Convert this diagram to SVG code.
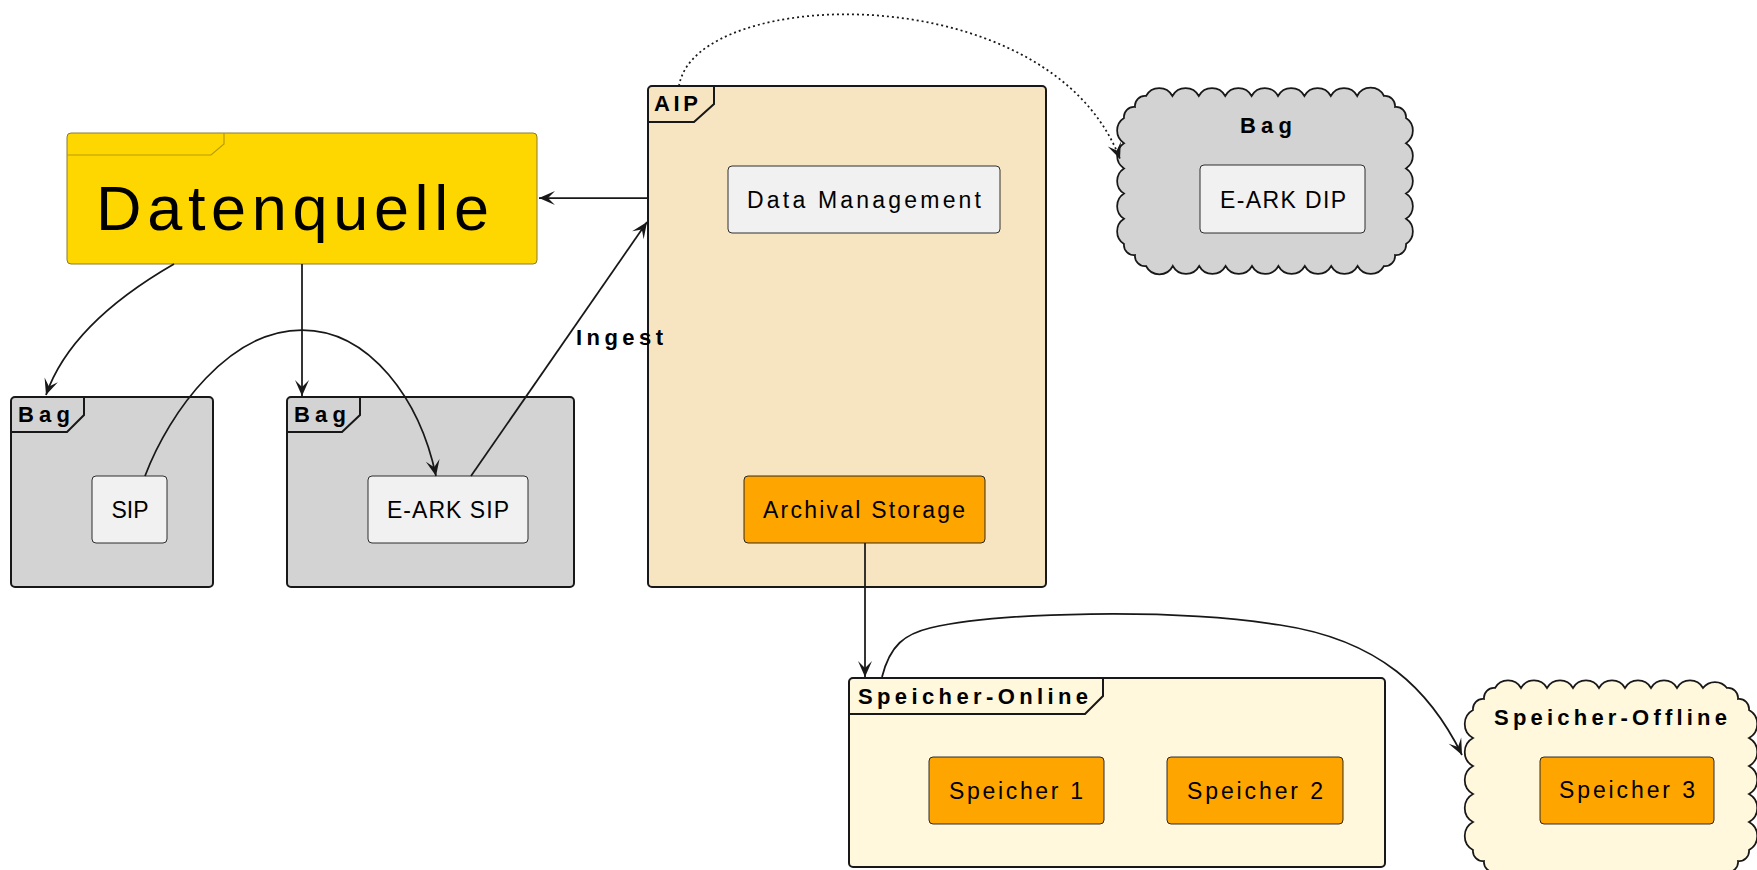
<svg xmlns="http://www.w3.org/2000/svg" width="1757" height="870" viewBox="0 0 1757 870">
<style>
.pkg{stroke:#181818;stroke-width:2}
.tab{fill:none;stroke:#181818;stroke-width:2}
.node{stroke:#181818;stroke-width:0.9}
.ttl{font-family:"Liberation Sans",Arial,sans-serif;font-weight:bold;font-size:22px;fill:#000}
.lbl{font-family:"Liberation Sans",Arial,sans-serif;font-size:23px;fill:#000;text-anchor:middle}
.con{fill:none;stroke:#181818;stroke-width:1.75}
.cloud{stroke:#181818;stroke-width:1.75}
</style>
<defs>
<marker id="arr" viewBox="-17 -8 18 16" markerWidth="18" markerHeight="16" refX="0" refY="0" orient="auto" markerUnits="userSpaceOnUse">
<path d="M0,0 L-16,-7 L-9,0 L-16,7 Z" fill="#181818"/>
</marker>
</defs>
<rect width="1757" height="870" fill="#fff"/>

<g id="datenquelle">
<rect x="67" y="133" width="470" height="131" rx="4" fill="#FFD700" stroke="#8a7a30" stroke-width="1"/>
<path d="M67,155 H211 L224,144 V133" fill="none" stroke="#B89C00" stroke-width="1.2"/>
<text x="96" y="230" font-family="'Liberation Sans',Arial,sans-serif" font-size="63" textLength="393" lengthAdjust="spacing">Datenquelle</text>
</g>

<g id="bag1">
<rect class="pkg" x="11" y="397" width="202" height="190" rx="4" fill="#D3D3D3"/>
<path class="tab" d="M11,432 H67 L84,415 V397"/>
<text class="ttl" x="18" y="422" textLength="52" lengthAdjust="spacing">Bag</text>
<g id="sip">
<rect class="node" x="92" y="476" width="75" height="67" rx="4" fill="#F1F1F1"/>
<text class="lbl" x="130" y="518" textLength="37" lengthAdjust="spacing">SIP</text>
</g>
</g>

<g id="bag2">
<rect class="pkg" x="287" y="397" width="287" height="190" rx="4" fill="#D3D3D3"/>
<path class="tab" d="M287,432 H342 L360,415 V397"/>
<text class="ttl" x="294" y="422" textLength="52" lengthAdjust="spacing">Bag</text>
<g id="earksip">
<rect class="node" x="368" y="476" width="160" height="67" rx="4" fill="#F1F1F1"/>
<text class="lbl" x="448" y="518" textLength="122" lengthAdjust="spacing">E-ARK SIP</text>
</g>
</g>

<g id="aip">
<rect class="pkg" x="648" y="86" width="398" height="501" rx="4" fill="#F7E5C1"/>
<path class="tab" d="M648,122 H694 L714,104 V86"/>
<text class="ttl" x="654" y="111" textLength="44" lengthAdjust="spacing">AIP</text>
<g id="datamanagement">
<rect class="node" x="728" y="166" width="272" height="67" rx="4" fill="#F1F1F1"/>
<text class="lbl" x="864" y="208" textLength="234" lengthAdjust="spacing">Data Management</text>
</g>
<g id="archivalstorage">
<rect class="node" x="744" y="476" width="241" height="67" rx="4" fill="#FFA500"/>
<text class="lbl" x="864" y="518" textLength="202" lengthAdjust="spacing">Archival Storage</text>
</g>
</g>

<g id="bagdip">
<path class="cloud" fill="#D3D3D3" d="M1146,96 a15,15 0 0 1 26.4,0 a15,15 0 0 1 26.4,0 a15,15 0 0 1 26.4,0 a15,15 0 0 1 26.4,0 a15,15 0 0 1 26.4,0 a15,15 0 0 1 26.4,0 a15,15 0 0 1 26.4,0 a15,15 0 0 1 26.4,0 a15,15 0 0 1 26.8,0 a10,10 0 0 1 11,11 a10,10 0 0 1 11,11 a15,15 0 0 1 0,25.2 a15,15 0 0 1 0,25.2 a15,15 0 0 1 0,25.2 a15,15 0 0 1 0,25.2 a15,15 0 0 1 0,25.2 a10,10 0 0 1 -11,11 a10,10 0 0 1 -11,11 a15,15 0 0 1 -26.4,0 a15,15 0 0 1 -26.4,0 a15,15 0 0 1 -26.4,0 a15,15 0 0 1 -26.4,0 a15,15 0 0 1 -26.4,0 a15,15 0 0 1 -26.4,0 a15,15 0 0 1 -26.4,0 a15,15 0 0 1 -26.4,0 a15,15 0 0 1 -26.8,0 a10,10 0 0 1 -11,-11 a10,10 0 0 1 -11,-11 a15,15 0 0 1 0,-25.2 a15,15 0 0 1 0,-25.2 a15,15 0 0 1 0,-25.2 a15,15 0 0 1 0,-25.2 a15,15 0 0 1 0,-25.2 a10,10 0 0 1 11,-11 a10,10 0 0 1 11,-11 Z"/>
<text class="ttl" x="1240" y="133" textLength="52" lengthAdjust="spacing">Bag</text>
<g id="earkdip">
<rect class="node" x="1200" y="165" width="165" height="68" rx="4" fill="#F1F1F1"/>
<text class="lbl" x="1283" y="208" textLength="126" lengthAdjust="spacing">E-ARK DIP</text>
</g>
</g>

<g id="speicheronline">
<rect class="pkg" x="849" y="678" width="536" height="189" rx="4" fill="#FFF8DC"/>
<path class="tab" d="M849,714 H1085 L1103,696 V678"/>
<text class="ttl" x="858" y="704" textLength="230" lengthAdjust="spacing">Speicher-Online</text>
<g id="speicher1">
<rect class="node" x="929" y="757" width="175" height="67" rx="4" fill="#FFA500"/>
<text class="lbl" x="1016" y="799" textLength="134" lengthAdjust="spacing">Speicher 1</text>
</g>
<g id="speicher2">
<rect class="node" x="1167" y="757" width="176" height="67" rx="4" fill="#FFA500"/>
<text class="lbl" x="1255" y="799" textLength="136" lengthAdjust="spacing">Speicher 2</text>
</g>
</g>

<g id="speicheroffline">
<path class="cloud" fill="#FFF8DC" d="M1495,688 a15,15 0 0 1 26,0 a15,15 0 0 1 26,0 a15,15 0 0 1 26,0 a15,15 0 0 1 26,0 a15,15 0 0 1 26,0 a15,15 0 0 1 26,0 a15,15 0 0 1 26,0 a15,15 0 0 1 26,0 a15,15 0 0 1 24,0 a10,10 0 0 1 11,11 a10,10 0 0 1 11,11 a16,16 0 0 1 0,28 a16,16 0 0 1 0,28 a16,16 0 0 1 0,28 a16,16 0 0 1 0,28 a16,16 0 0 1 0,28 a10,10 0 0 1 -11,11 a10,10 0 0 1 -11,11 a15,15 0 0 1 -26,0 a15,15 0 0 1 -26,0 a15,15 0 0 1 -26,0 a15,15 0 0 1 -26,0 a15,15 0 0 1 -26,0 a15,15 0 0 1 -26,0 a15,15 0 0 1 -26,0 a15,15 0 0 1 -26,0 a15,15 0 0 1 -24,0 a10,10 0 0 1 -11,-11 a10,10 0 0 1 -11,-11 a16,16 0 0 1 0,-28 a16,16 0 0 1 0,-28 a16,16 0 0 1 0,-28 a16,16 0 0 1 0,-28 a16,16 0 0 1 0,-28 a10,10 0 0 1 11,-11 a10,10 0 0 1 11,-11 Z"/>
<text class="ttl" x="1494" y="725" textLength="233" lengthAdjust="spacing">Speicher-Offline</text>
<g id="speicher3">
<rect class="node" x="1540" y="757" width="174" height="67" rx="4" fill="#FFA500"/>
<text class="lbl" x="1627" y="798" textLength="136" lengthAdjust="spacing">Speicher 3</text>
</g>
</g>

<g id="connectors">
<path class="con" d="M648,198 L539,198" marker-end="url(#arr)"/>
<path class="con" d="M174,264 C115,298 65,340 46,395" marker-end="url(#arr)"/>
<path class="con" d="M302,264 L302,396" marker-end="url(#arr)"/>
<path class="con" d="M145,476 C170,410 230,330 302,330 C370,330 420,400 436,476" marker-end="url(#arr)"/>
<path class="con" d="M471,476 L647,222" marker-end="url(#arr)"/>
<text class="ttl" x="576" y="345" textLength="87" lengthAdjust="spacing">Ingest</text>
<path class="con" d="M679,86 C695,-15 1050,-25 1120,159" stroke-dasharray="2,3" marker-end="url(#arr)"/>
<path class="con" d="M865,543 L865,677" marker-end="url(#arr)"/>
<path class="con" d="M882,677 C890,645 905,634 930,628 C1000,612 1170,608 1280,625 C1380,640 1430,690 1462,755" marker-end="url(#arr)"/>
</g>
</svg>
